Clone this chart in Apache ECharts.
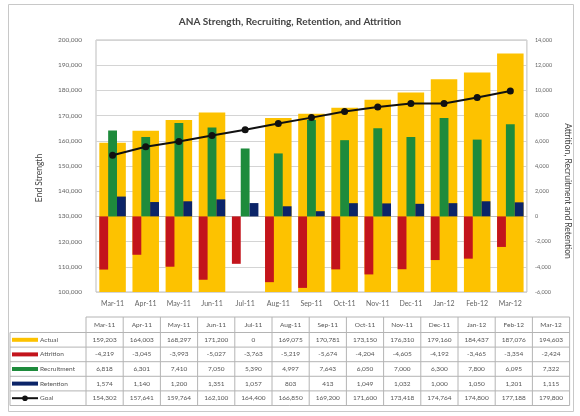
<!DOCTYPE html>
<html>
<head>
<meta charset="utf-8">
<script src="https://cdn.jsdelivr.net/npm/echarts@6/dist/echarts.min.js"></script>
<style>
  html, body { margin: 0; padding: 0; background: #fff; }
  #chart { width: 580px; height: 416px; }
</style>
</head>
<body>
<div id="chart"></div>
<script>
// chart data
var categories = ['Mar-11', 'Apr-11', 'May-11', 'Jun-11', 'Jul-11', 'Aug-11', 'Sep-11',
                  'Oct-11', 'Nov-11', 'Dec-11', 'Jan-12', 'Feb-12', 'Mar-12'];
var actual      = [159203, 164003, 168297, 171200, 0, 169075, 170781, 173150, 176310, 179160, 184437, 187076, 194603];
var attrition   = [-4219, -3045, -3993, -5027, -3763, -5219, -5674, -4204, -4605, -4192, -3465, -3354, -2424];
var recruitment = [6818, 6301, 7410, 7050, 5390, 4997, 7643, 6050, 7000, 6300, 7800, 6095, 7322];
var retention   = [1574, 1140, 1200, 1351, 1057, 803, 413, 1049, 1032, 1000, 1050, 1201, 1115];
var goal        = [154302, 157641, 159764, 162100, 164400, 166850, 169200, 171600, 173418, 174764, 174800, 177188, 179800];

var rowNames = ['Actual', 'Attrition', 'Recruitment', 'Retention', 'Goal'];
var rowData = [actual, attrition, recruitment, retention, goal];

var GOLD = '#FDC200', RED = '#C3141C', GREEN = '#1E8B3C', NAVY = '#0B2468', BLACK = '#111';
var rowColors = [GOLD, RED, GREEN, NAVY, BLACK];
var FONT = 'Lato';

function fmt(v) { return v.toLocaleString('en-US'); }

// table under the chart, built with graphic elements
function buildTable() {
  var els = [];
  var x0 = 10, colX = 86, colW = 37.2, top = 317, headH = 15.5, rowH = 14.6;
  var right = colX + colW * categories.length;
  var bottom = top + headH + rowH * rowNames.length;
  var lineStyle = { stroke: '#b4b4b4', lineWidth: 1 };

  // horizontal lines
  els.push({ type: 'line', shape: { x1: colX, y1: top, x2: right, y2: top }, style: lineStyle });
  for (var r = 0; r <= rowNames.length; r++) {
    var y = top + headH + rowH * r;
    els.push({ type: 'line', shape: { x1: x0, y1: y, x2: right, y2: y }, style: lineStyle });
  }
  // vertical lines
  els.push({ type: 'line', shape: { x1: x0, y1: top + headH, x2: x0, y2: bottom }, style: lineStyle });
  for (var c = 0; c <= categories.length; c++) {
    var x = colX + colW * c;
    els.push({ type: 'line', shape: { x1: x, y1: top, x2: x, y2: bottom }, style: lineStyle });
  }
  // header
  categories.forEach(function (cat, i) {
    els.push({
      type: 'text', x: colX + colW * (i + 0.5), y: top + headH / 2,
      style: { text: cat, fontSize: 6.5, fontFamily: FONT, fill: '#555', align: 'center', verticalAlign: 'middle' }
    });
  });
  // rows
  rowNames.forEach(function (name, r) {
    var cy = top + headH + rowH * (r + 0.5);
    els.push({
      type: 'line', shape: { x1: 12, y1: cy, x2: 38, y2: cy },
      style: { stroke: rowColors[r], lineWidth: r === 4 ? 2 : 4 }
    });
    if (r === 4) {
      els.push({ type: 'circle', shape: { cx: 25, cy: cy, r: 2.8 }, style: { fill: BLACK } });
    }
    els.push({
      type: 'text', x: 40, y: cy,
      style: { text: name, fontSize: 6.5, fontFamily: FONT, fill: '#555', verticalAlign: 'middle' }
    });
    rowData[r].forEach(function (v, i) {
      els.push({
        type: 'text', x: colX + colW * (i + 0.5), y: cy,
        style: { text: fmt(v), fontSize: 6.5, fontFamily: FONT, fill: '#555', align: 'center', verticalAlign: 'middle' }
      });
    });
  });
  // outer frame
  els.push({
    type: 'rect', shape: { x: 8.5, y: 4.5, width: 565, height: 407 },
    style: { fill: null, stroke: '#c8c8c8', lineWidth: 1 }, z: -1
  });
  return els;
}

var chart = echarts.init(document.getElementById('chart'));

var option = {
  animation: false,
  backgroundColor: '#fff',
  textStyle: { fontFamily: FONT },
  title: {
    text: 'ANA Strength, Recruiting, Retention, and Attrition',
    left: 'center', top: 12,
    textStyle: { fontSize: 10, fontWeight: 'bold', color: '#444', fontFamily: FONT }
  },
  grid: {
    left: 96, right: 43, top: 40, bottom: 124,
    show: true, borderColor: '#bdbdbd', borderWidth: 1
  },
  xAxis: [
    {
      type: 'category', data: categories,
      axisLine: { lineStyle: { color: '#bdbdbd' } },
      axisTick: { show: false },
      axisLabel: { color: '#666', fontSize: 7, margin: 8, interval: 0 }
    },
    {
      type: 'category', data: categories, show: false
    }
  ],
  yAxis: [
    {
      type: 'value', min: 100000, max: 200000, interval: 10000,
      name: 'End Strength', nameLocation: 'middle', nameGap: 52, nameRotate: 90,
      nameTextStyle: { color: '#444', fontSize: 8.5, padding: [0, 24, 0, 0] },
      axisLine: { show: false }, axisTick: { show: false },
      axisLabel: { color: '#666', fontSize: 6.5, margin: 14, formatter: fmt },
      splitLine: { lineStyle: { color: '#d4d4d4' } }
    },
    {
      type: 'value', min: -6000, max: 14000, interval: 2000,
      name: 'Attrition, Recruitment and Retention', nameLocation: 'middle', nameGap: 28, nameRotate: -90,
      nameTextStyle: { color: '#444', fontSize: 8.5, padding: [0, 0, 0, 50] },
      axisLine: { show: false }, axisTick: { show: false },
      axisLabel: { color: '#666', fontSize: 5.5, margin: 8, formatter: fmt },
      splitLine: { show: false }
    }
  ],
  series: [
    {
      name: 'Actual', type: 'bar', xAxisIndex: 0, yAxisIndex: 0,
      data: actual, barCategoryGap: '20%', clip: true,
      itemStyle: { color: GOLD }, z: 1
    },
    {
      name: 'Attrition', type: 'bar', xAxisIndex: 1, yAxisIndex: 1,
      data: attrition, barGap: '0%', barCategoryGap: '20%',
      itemStyle: { color: RED }, z: 2
    },
    {
      name: 'Recruitment', type: 'bar', xAxisIndex: 1, yAxisIndex: 1,
      data: recruitment, barGap: '0%', barCategoryGap: '20%',
      itemStyle: { color: GREEN }, z: 2
    },
    {
      name: 'Retention', type: 'bar', xAxisIndex: 1, yAxisIndex: 1,
      data: retention, barGap: '0%', barCategoryGap: '20%',
      itemStyle: { color: NAVY }, z: 2
    },
    {
      name: 'Goal', type: 'line', xAxisIndex: 0, yAxisIndex: 0,
      data: goal, symbol: 'circle', symbolSize: 7,
      lineStyle: { color: BLACK, width: 2 },
      itemStyle: { color: BLACK }, z: 5
    }
  ],
  graphic: buildTable()
};

chart.setOption(option);
</script>
</body>
</html>
